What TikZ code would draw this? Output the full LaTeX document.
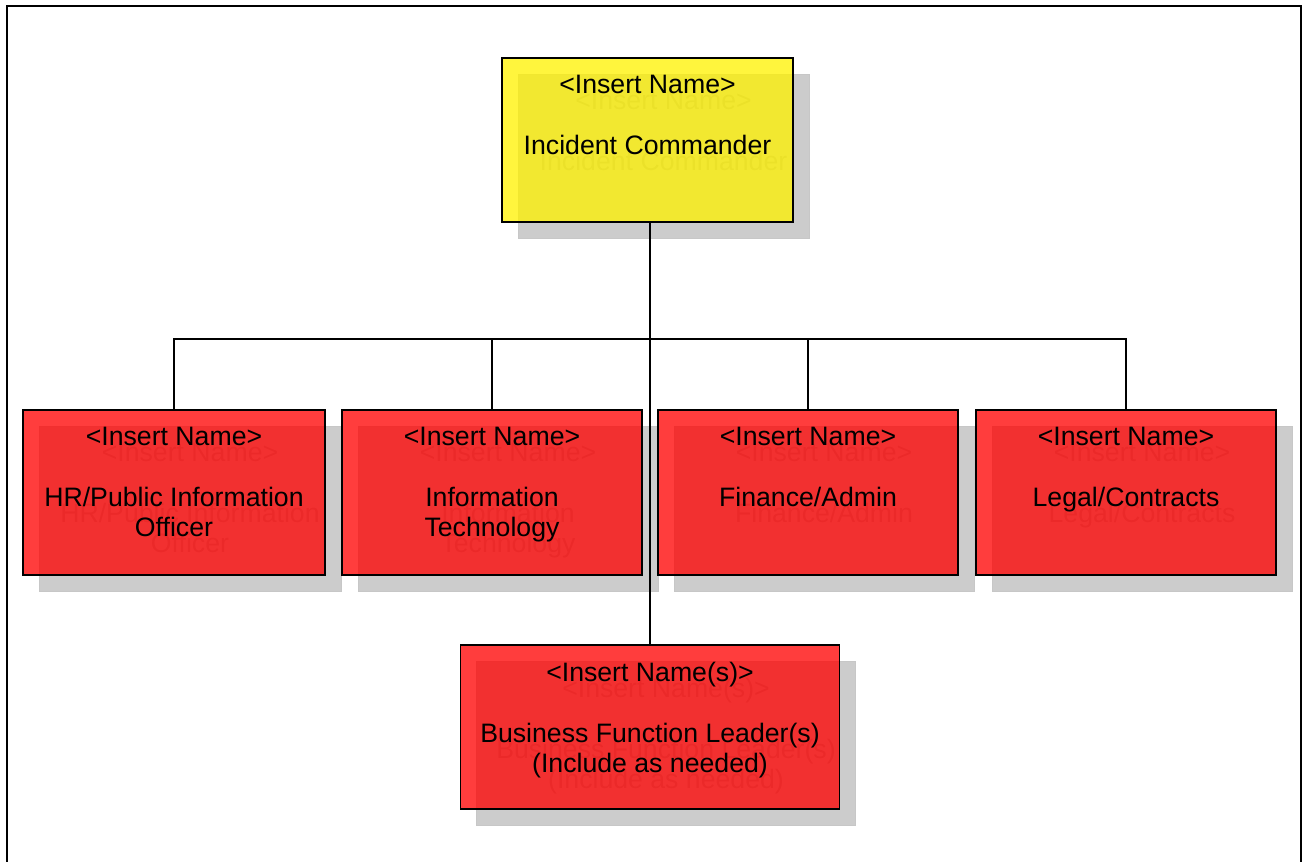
\documentclass[tikz,border=0pt]{standalone}
\usepackage{fontspec}
\setmainfont{Liberation Sans}
\begin{document}
\begin{tikzpicture}[x=0.75pt,y=-0.75pt,
  frame/.style={line width=1.6pt},
  conn/.style={line width=1.2pt},
  shadowbox/.style={rectangle, fill=black!20, draw=black!22, line width=0.6pt, inner sep=0pt, outer sep=0pt},
  orgbox/.style={rectangle, draw=black, line width=1.3pt, fill opacity=0.76, inner sep=0pt, outer sep=0pt},
  txt/.style={align=center, inner sep=0pt, font=\fontsize{20}{22.7}\selectfont, text=black},
  ghost/.style={txt, text=black!32}
]
\useasboundingbox (0,0) rectangle (1303,862);
\fill[white] (0,0) rectangle (1303,862);
\begin{scope}
\clip (0,0) rectangle (1303,862);
\draw[frame] (7,880) -- (7,6) -- (1301,6) -- (1301,880);
\end{scope}

\newcommand{\orgnode}[7]{%
  \node[shadowbox, minimum width=#4*0.75pt, minimum height=#5*0.75pt] (#1s) at (#2+16,#3+16) {};
  \node[ghost, anchor=north] at ([yshift=-12.4pt]#1s.north) {#7};
  \node[orgbox, fill=#6, minimum width=#4*0.75pt, minimum height=#5*0.75pt] (#1) at (#2,#3) {};
  \node[txt, anchor=north] (#1t) at ([yshift=-12.4pt]#1.north) {#7};
}

\orgnode{ic}{647.5}{140}{291}{164}{yellow}{<Insert Name>\\[23.3pt]Incident Commander}
\orgnode{hr}{174}{492.5}{302}{165}{red}{<Insert Name>\\[23.3pt]HR/Public Information\\Officer}
\orgnode{it}{492}{492.5}{300}{165}{red}{<Insert Name>\\[23.3pt]Information\\Technology}
\orgnode{fin}{808}{492.5}{300}{165}{red}{<Insert Name>\\[23.3pt]Finance/Admin}
\orgnode{leg}{1126}{492.5}{300}{165}{red}{<Insert Name>\\[23.3pt]Legal/Contracts}

\coordinate (bus) at (650,339);
\draw[conn] (hr.north) |- (bus) -| (leg.north);
\draw[conn] (it.north) -- (it.north |- bus);
\draw[conn] (fin.north) -- (fin.north |- bus);

\orgnode{bfl}{650}{727}{379}{164}{red}{<Insert Name(s)>\\[23.3pt]Business Function Leader(s)\\(Include as needed)}

\draw[conn] (ic.south -| bfl.north) -- (bfl.north);
\end{tikzpicture}
\end{document}
